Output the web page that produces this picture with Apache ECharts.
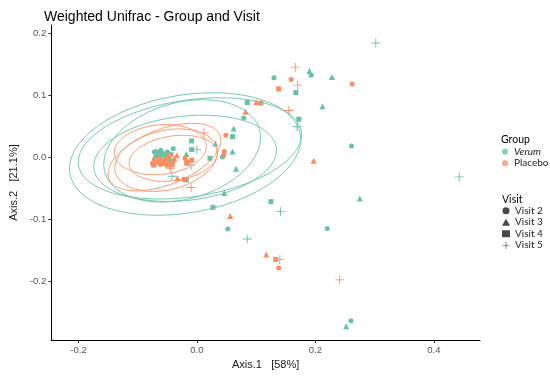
<!DOCTYPE html>
<html>
<head>
<meta charset="utf-8">
<script src="https://cdn.jsdelivr.net/npm/echarts@6/dist/echarts.min.js"></script>
<style>html,body{margin:0;padding:0;background:#fff}#c{width:550px;height:377px}</style>
</head>
<body>
<div id="c"></div>
<script>
// ---- data (Axis.1, Axis.2) ----
const groups = ['Verum', 'Placebo'];
const visits = ['Visit 2', 'Visit 3', 'Visit 4', 'Visit 5'];
const xTicks = [-0.2, 0.0, 0.2, 0.4];
const yTicks = [-0.2, -0.1, 0.0, 0.1, 0.2];

const verumV2 = [[0.193,0.132],[0.130,0.128],[0.079,0.063],[0.261,0.018],[0.043,0.000],[0.052,-0.116],[0.220,-0.115],[0.260,-0.264],[-0.040,0.014],[-0.069,0.009],[-0.061,0.011],[-0.053,0.002],[-0.066,-0.005],[-0.072,0.008],[-0.064,0.006],[-0.058,0.004],[-0.050,0.008],[-0.062,-0.002],[-0.055,-0.006],[-0.047,-0.004],[-0.070,0.000]];
const verumV3 = [[0.190,0.139],[0.228,0.129],[0.212,0.082],[0.062,0.046],[0.031,0.022],[0.060,0.009],[0.066,-0.019],[0.046,-0.058],[-0.018,0.005],[0.275,-0.067],[0.252,-0.273],[-0.056,0.006],[-0.060,0.010],[-0.052,0.000]];
const verumV4 = [[0.167,0.104],[0.085,0.088],[0.172,0.061],[0.060,0.033],[-0.009,0.026],[-0.009,0.012],[0.022,-0.002],[0.027,-0.081],[0.125,-0.072],[-0.018,-0.037],[-0.069,0.000],[-0.048,-0.008],[-0.066,0.004],[-0.058,-0.010],[-0.044,0.004]];
const verumV5 = [[0.302,0.184],[0.443,-0.032],[0.141,-0.088],[0.085,-0.132],[0.140,-0.165],[0.169,0.049],[0.000,0.012],[-0.010,-0.013],[-0.042,-0.031]];

const placeboV2 = [[0.159,0.125],[0.262,0.118],[0.049,0.035],[0.046,0.009],[0.045,0.003],[0.138,-0.179],[-0.020,-0.002],[-0.075,-0.010],[-0.058,-0.008],[-0.050,-0.002],[-0.045,0.003],[-0.068,-0.008],[-0.062,-0.012],[-0.054,-0.004],[-0.046,-0.010],[-0.040,-0.006],[-0.072,-0.004]];
const placeboV3 = [[0.082,0.073],[0.100,0.089],[0.197,-0.006],[0.056,-0.095],[0.117,-0.157],[-0.033,-0.034],[-0.034,0.003],[-0.064,0.000],[-0.050,-0.012],[-0.038,-0.002]];
const placeboV4 = [[0.138,0.110],[0.108,0.087],[0.133,-0.165],[-0.017,-0.008],[-0.009,-0.005],[-0.021,-0.036],[-0.017,-0.010],[-0.073,-0.013],[-0.053,-0.010],[-0.064,-0.006],[-0.042,-0.012]];
const placeboV5 = [[0.166,0.145],[0.170,0.116],[0.155,0.075],[0.241,-0.198],[-0.010,-0.049],[0.012,0.039],[-0.045,-0.018]];

// ellipses: [centerX, centerY, semiMajor, semiMinor, angleDeg]
const verumEllipses = [[-0.020,0.005,0.197,0.095,9],[-0.012,0.014,0.190,0.078,8],[-0.020,-0.002,0.155,0.068,6],[-0.025,0.010,0.135,0.078,14]];
const placeboEllipses = [[-0.055,0.000,0.100,0.045,20],[-0.040,-0.002,0.075,0.036,8],[-0.062,0.012,0.078,0.040,5],[-0.052,-0.005,0.088,0.048,12]];

// ---- styling ----
const COL = {Verum:'#66C2A5', Placebo:'#FC8D62'};
const PLUS = 'path://M0.45,0H0.55V0.45H1V0.55H0.55V1H0.45V0.55H0V0.45H0.45Z';
const SYM = {'Visit 2':['circle',5], 'Visit 3':['triangle',6], 'Visit 4':['rect',5], 'Visit 5':[PLUS,9]};
const pointData = {Verum:[verumV2,verumV3,verumV4,verumV5], Placebo:[placeboV2,placeboV3,placeboV4,placeboV5]};

function ellipseRender(color){
  return function(params, api){
    const cx=api.value(0), cy=api.value(1), a=api.value(2), b=api.value(3), ang=api.value(4)*Math.PI/180;
    const pts=[];
    for(let k=0;k<=160;k++){
      const t=k/160*2*Math.PI;
      const x=cx+a*Math.cos(t)*Math.cos(ang)-b*Math.sin(t)*Math.sin(ang);
      const y=cy+a*Math.cos(t)*Math.sin(ang)+b*Math.sin(t)*Math.cos(ang);
      pts.push(api.coord([x,y]));
    }
    return {type:'polyline', shape:{points:pts}, style:{stroke:color, fill:null, lineWidth:0.9}};
  };
}

const series = [];
groups.forEach(g=>{
  visits.forEach((v,i)=>{
    series.push({type:'scatter', name:g+' '+v, data:pointData[g][i], symbol:SYM[v][0], symbolSize:SYM[v][1],
      itemStyle:{color:COL[g], opacity:1}, emphasis:{disabled:true}, z:2});
  });
});
series.push({type:'custom', name:'Verum ellipses', data:verumEllipses, renderItem:ellipseRender(COL.Verum), encode:{x:0,y:1}, silent:true, z:3});
series.push({type:'custom', name:'Placebo ellipses', data:placeboEllipses, renderItem:ellipseRender(COL.Placebo), encode:{x:0,y:1}, silent:true, z:3});
// legend-only series
groups.forEach(g=>series.push({type:'scatter', name:g, data:[], symbol:'circle', symbolSize:5, itemStyle:{color:COL[g]}}));
visits.forEach(v=>series.push({type:'scatter', name:v, data:[], symbol:SYM[v][0], symbolSize:SYM[v][1], itemStyle:{color:'#1a1a1a'}}));

const AX_FONT = 'Liberation Sans, Arial, sans-serif';
const LEG_FONT = 'Lato, Noto Sans, sans-serif';

const option = {
  animation:false,
  backgroundColor:'#fff',
  title:[
    {text:'Weighted Unifrac - Group and Visit', left:39, top:5, textStyle:{fontSize:14, fontWeight:'normal', color:'#000', fontFamily:AX_FONT}},
    {text:'Group', left:496, top:129, textStyle:{fontSize:10.5, fontWeight:'normal', color:'#000', fontFamily:LEG_FONT}},
    {text:'Visit', left:497, top:189, textStyle:{fontSize:10.5, fontWeight:'normal', color:'#000', fontFamily:LEG_FONT}}
  ],
  legend:[
    {data:groups, orient:'vertical', left:497, top:141, itemWidth:8, itemHeight:6, itemGap:0,
     selectedMode:false,
     formatter:n=> n==='Verum' ? '{i|'+n+'}' : '{n|'+n+'}',
     textStyle:{fontSize:10, color:'#222', fontFamily:LEG_FONT, lineHeight:11.5,
       rich:{i:{fontStyle:'italic', fontSize:10, fontFamily:LEG_FONT, color:'#222'}, n:{fontSize:10, fontFamily:LEG_FONT, color:'#222'}}}},
    {data:visits, orient:'vertical', left:497, top:200, itemWidth:8, itemHeight:7, itemGap:0,
     selectedMode:false,
     textStyle:{fontSize:10, color:'#222', fontFamily:LEG_FONT, lineHeight:11.5}}
  ],
  grid:{left:43, right:70, top:25, bottom:37},
  xAxis:{type:'value', min:-0.246, max:0.478,
    name:'Axis.1   [58%]', nameLocation:'middle', nameGap:16,
    nameTextStyle:{fontSize:11, color:'#1a1a1a', fontFamily:AX_FONT},
    axisLine:{show:true, onZero:false, lineStyle:{color:'#000', width:1}},
    axisTick:{show:true, length:3, customValues:xTicks, lineStyle:{color:'#333'}},
    axisLabel:{customValues:xTicks, margin:5, fontSize:9.5, color:'#555', fontFamily:AX_FONT, formatter:v=>v.toFixed(1)},
    splitLine:{show:false}},
  yAxis:{type:'value', min:-0.295, max:0.213,
    name:'Axis.2   [21.1%]', nameLocation:'middle', nameGap:24, nameRotate:90,
    nameTextStyle:{fontSize:11, color:'#1a1a1a', fontFamily:AX_FONT},
    axisLine:{show:true, onZero:false, lineStyle:{color:'#000', width:1}},
    axisTick:{show:true, length:3, customValues:yTicks, lineStyle:{color:'#333'}},
    axisLabel:{customValues:yTicks, margin:5, fontSize:9.5, color:'#555', fontFamily:AX_FONT, formatter:v=>v.toFixed(1)},
    splitLine:{show:false}},
  series:series
};
const chart = echarts.init(document.getElementById('c'), null, {renderer:'canvas'});
chart.setOption(option);
</script>
</body>
</html>
